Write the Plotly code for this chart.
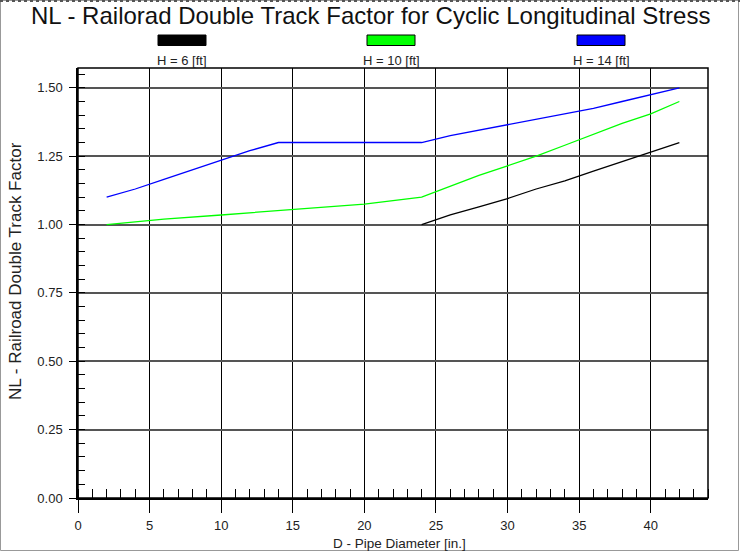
import plotly.graph_objects as go

# ---- data ----
series_names = ["H = 6 [ft]", "H = 10 [ft]", "H = 14 [ft]"]
series_colors = ["#000000", "#00FF00", "#0000FF"]

d_h6 = [24, 26, 28, 30, 32, 34, 36, 38, 40, 42]
nl_h6 = [1.00, 1.035, 1.065, 1.095, 1.13, 1.16, 1.195, 1.23, 1.265, 1.30]

d_h10 = [2, 6, 10, 14, 18, 20, 24, 26, 28, 30, 32, 34, 36, 38, 40, 42]
nl_h10 = [1.00, 1.02, 1.035, 1.05, 1.065, 1.075, 1.10, 1.14, 1.18, 1.215, 1.25, 1.29, 1.33, 1.37, 1.405, 1.45]

d_h14 = [2, 4, 6, 8, 10, 12, 14, 16, 20, 24, 26, 28, 30, 32, 34, 36, 38, 40, 42]
nl_h14 = [1.10, 1.13, 1.165, 1.20, 1.235, 1.27, 1.30, 1.30, 1.30, 1.30, 1.325, 1.345, 1.365, 1.385, 1.405, 1.425, 1.45, 1.475, 1.50]

x_ticks = [0, 5, 10, 15, 20, 25, 30, 35, 40]
y_ticks = [0.00, 0.25, 0.50, 0.75, 1.00, 1.25, 1.50]

title_text = "NL - Railorad Double Track Factor for Cyclic Longitudinal Stress"
x_title = "D - Pipe Diameter [in.]"
y_title = "NL - Railroad Double Track Factor"

FONT = "Liberation Sans, Arial, sans-serif"
TXT = "#222222"

fig = go.Figure()
for xs, ys, name, col in zip([d_h6, d_h10, d_h14], [nl_h6, nl_h10, nl_h14], series_names, series_colors):
    fig.add_trace(go.Scatter(x=xs, y=ys, mode="lines", name=name,
                             line=dict(color=col, width=1.3), showlegend=False))

W, H = 740, 552
ml, mr, mt, mb = 78, 32, 68, 54
pw, ph = W - ml - mr, H - mt - mb


def px_x(p):
    return (p - ml) / pw


def px_y(p):
    return (H - mb - p) / ph


shapes = []
annotations = []
# legend swatches + labels
legend_centers = [182, 391, 601]
for cx, name, col in zip(legend_centers, series_names, series_colors):
    shapes.append(dict(type="rect", xref="paper", yref="paper",
                       x0=px_x(cx - 24), x1=px_x(cx + 24), y0=px_y(45.5), y1=px_y(35),
                       fillcolor=col, line=dict(color="#000000", width=1)))
    annotations.append(dict(text=name, xref="paper", yref="paper", x=px_x(cx), y=px_y(60),
                            showarrow=False, xanchor="center", yanchor="middle",
                            font=dict(family=FONT, size=13, color=TXT)))

# title
annotations.append(dict(text=title_text, xref="paper", yref="paper", x=px_x(370), y=px_y(16),
                        showarrow=False, xanchor="center", yanchor="middle",
                        font=dict(family=FONT, size=24, color="#111111")))
# axis titles
annotations.append(dict(text=x_title, xref="paper", yref="paper", x=px_x(399), y=px_y(543),
                        showarrow=False, xanchor="center", yanchor="middle",
                        font=dict(family=FONT, size=13.5, color=TXT)))
annotations.append(dict(text=y_title, xref="paper", yref="paper", x=px_x(15), y=px_y(271),
                        showarrow=False, xanchor="center", yanchor="middle", textangle=-90,
                        font=dict(family=FONT, size=17, color=TXT)))

# plot area frame (top/right)
shapes.append(dict(type="rect", xref="paper", yref="paper", x0=0, x1=1, y0=0, y1=1,
                   line=dict(color="#000000", width=1.5), layer="above"))
# outer border
shapes.append(dict(type="rect", xref="paper", yref="paper",
                   x0=px_x(0.5), x1=px_x(738.5), y0=px_y(550.5), y1=px_y(0.5),
                   line=dict(color="#999999", width=1)))
shapes.append(dict(type="line", xref="paper", yref="paper",
                   x0=px_x(0), x1=px_x(740), y0=px_y(1), y1=px_y(1),
                   line=dict(color="#555555", width=2, dash="dot")))

fig.update_layout(
    width=W, height=H,
    margin=dict(l=ml, r=mr, t=mt, b=mb),
    paper_bgcolor="white", plot_bgcolor="white",
    font=dict(family=FONT, size=13, color=TXT),
    shapes=shapes, annotations=annotations,
    xaxis=dict(range=[0, 44], tickvals=x_ticks, ticktext=[str(v) for v in x_ticks],
               showgrid=True, gridcolor="#000000", gridwidth=1.3,
               zeroline=False, showline=True, linecolor="#000000", linewidth=1.5,
               ticks="outside", ticklen=13, tickcolor="#000000", tickwidth=1.3,
               ticklabelstandoff=2,
               minor=dict(dtick=1, ticks="inside", ticklen=9, tickcolor="#000000",
                          tickwidth=1, showgrid=False),
               tickfont=dict(size=13, color=TXT)),
    yaxis=dict(range=[0, 1.5725], tickvals=y_ticks, ticktext=["%.2f" % v for v in y_ticks],
               showgrid=True, gridcolor="#555555", gridwidth=2,
               zeroline=False, showline=True, linecolor="#000000", linewidth=1.5,
               ticks="outside", ticklen=7, tickcolor="#000000", tickwidth=1.3,
               ticklabelstandoff=4,
               minor=dict(dtick=0.05, ticks="inside", ticklen=7, tickcolor="#000000",
                          tickwidth=1, showgrid=False),
               tickfont=dict(size=13, color=TXT)),
)

fig.write_html("out.html")
